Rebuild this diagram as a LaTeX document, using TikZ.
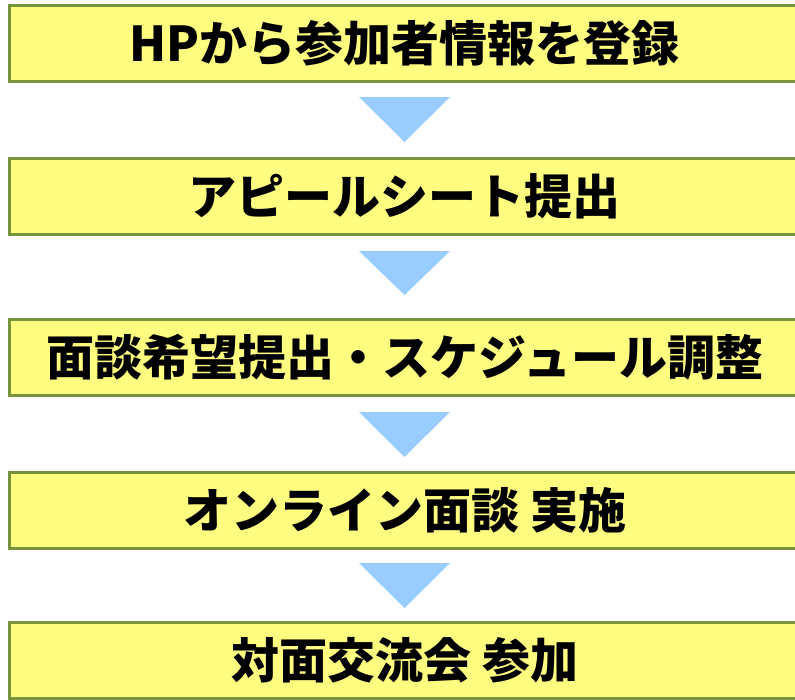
\documentclass[tikz,border=0pt]{standalone}
\usepackage{fontspec}
\setmainfont{Noto Sans CJK JP}
\definecolor{boxfill}{HTML}{FFFD80}
\definecolor{boxline}{HTML}{77933C}
\definecolor{arrowfill}{HTML}{99CCFF}
\newcommand{\liftup}[1]{\raisebox{3pt}{#1}}
\begin{document}
\begin{tikzpicture}[x=1pt,y=-1pt,
  stepbox/.style={draw=boxline, line width=3pt, fill=boxfill, minimum width=790.5pt,
    minimum height=76pt, inner sep=0pt, font=\fontsize{48}{50}\selectfont\bfseries},
  downtri/.style={fill=arrowfill, draw=none}]
\useasboundingbox (0,0) rectangle (795,699);
\begin{scope}
\clip (0,0) rectangle (795,699);
\node[stepbox] (b1) at (404.75,43.5) {\liftup{HPから参加者情報を登録}};
\node[stepbox] (b2) at (404.75,196.5) {\liftup{アピールシート提出}};
\node[stepbox] (b3) at (404.75,357.5) {\liftup{面談希望提出・スケジュール調整}};
\node[stepbox] (b4) at (404.75,510) {\liftup{オンライン面談 実施}};
\node[stepbox] (b5) at (404.75,660) {\liftup{対面交流会 参加}};
\end{scope}
\fill[downtri] (359,97) -- (450,97) -- (404.5,142) -- cycle;
\fill[downtri] (359,251) -- (450,251) -- (404.5,295) -- cycle;
\fill[downtri] (359,412) -- (450,412) -- (404.5,457) -- cycle;
\fill[downtri] (359,563) -- (450,563) -- (404.5,608) -- cycle;
\end{tikzpicture}
\end{document}
